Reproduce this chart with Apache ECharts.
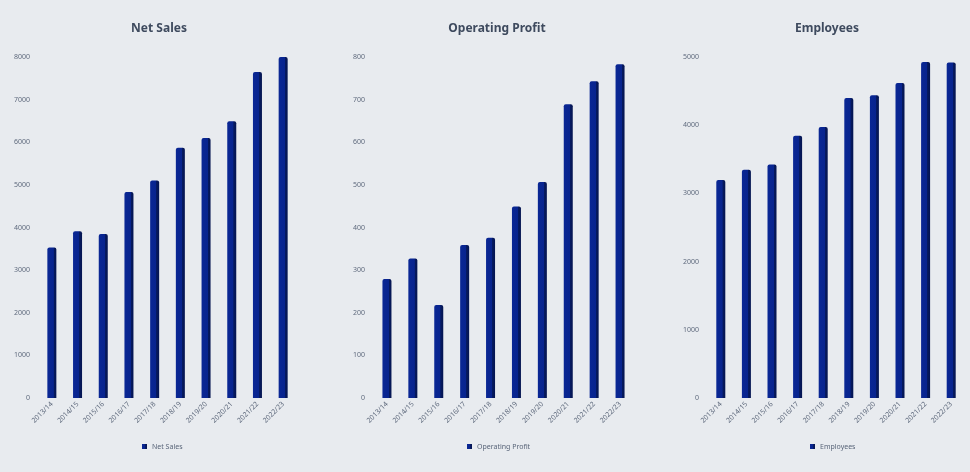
<!DOCTYPE html>
<html>
<head>
<meta charset="utf-8">
<script src="https://cdn.jsdelivr.net/npm/echarts@6/dist/echarts.min.js"></script>
<style>
html,body{margin:0;padding:0;background:#e8ebef;}
#c{width:970px;height:472px;}
</style>
</head>
<body>
<div id="c"></div>
<script>
var categories = ['2013/14','2014/15','2015/16','2016/17','2017/18','2018/19','2019/20','2020/21','2021/22','2022/23'];
var netSales = [3530, 3910, 3850, 4830, 5100, 5870, 6100, 6490, 7650, 8010];
var operatingProfit = [279, 327, 218, 359, 376, 449, 507, 689, 743, 783];
var employees = [3195, 3345, 3425, 3845, 3975, 4400, 4440, 4620, 4925, 4920];
var titles = ['Net Sales', 'Operating Profit', 'Employees'];
var yMax = [8000, 800, 5000];
var yStep = [1000, 100, 1000];

var FONT = "'Noto Sans', 'Open Sans', sans-serif";
var seriesData = [netSales, operatingProfit, employees];
var grids = [
  {left: 39, width: 257, top: 57, bottom: 74},
  {left: 374, width: 259, top: 57, bottom: 74},
  {left: 708, width: 256, top: 57, bottom: 74}
];
var centers = [159, 497, 827];
var barColor = {
  type: 'linear', x: 0, y: 0, x2: 1, y2: 0,
  colorStops: [
    {offset: 0, color: '#0a2794'},
    {offset: 0.68, color: '#08248e'},
    {offset: 0.7, color: '#061a62'},
    {offset: 1, color: '#051550'}
  ]
};
var option = {
  backgroundColor: '#e8ebef',
  animation: false,
  graphic: titles.map(function (t, i) {
    return {type: 'text', x: centers[i], y: 29,
      style: {text: t, textAlign: 'center', textVerticalAlign: 'middle', fontFamily: FONT, fontSize: 12, fontWeight: 'bold', fill: '#3e4a5e'}};
  }),
  legend: titles.map(function (t, i) {
    var w = 5 + 4 + t.length * 3.8;
    return {data: [t], left: Math.round(centers[i] - w / 2), top: 438,
      itemWidth: 5, itemHeight: 5, itemGap: 4, icon: 'rect',
      textStyle: {fontFamily: FONT, fontSize: 7, color: '#596579'}};
  }),
  grid: grids,
  xAxis: grids.map(function (g, i) {
    return {type: 'category', gridIndex: i, data: categories,
      axisLine: {show: false}, axisTick: {show: false},
      axisLabel: {rotate: 45, interval: 0, fontFamily: FONT, fontSize: 7, color: '#5f6a7d', margin: 5}};
  }),
  yAxis: grids.map(function (g, i) {
    return {type: 'value', gridIndex: i, min: 0, max: yMax[i], interval: yStep[i],
      axisLine: {show: false}, axisTick: {show: false}, splitLine: {show: false},
      axisLabel: {fontFamily: FONT, fontSize: 7, color: '#5f6a7d', margin: 9,
        formatter: function (v) { return String(v); }}};
  }),
  series: seriesData.map(function (d, i) {
    return {type: 'bar', name: titles[i], xAxisIndex: i, yAxisIndex: i, data: d,
      barWidth: 9, itemStyle: {color: barColor, borderRadius: [2, 2, 0, 0]}};
  })
};
var chart = echarts.init(document.getElementById('c'), null, {renderer: 'canvas'});
chart.setOption(option);
</script>
</body>
</html>
